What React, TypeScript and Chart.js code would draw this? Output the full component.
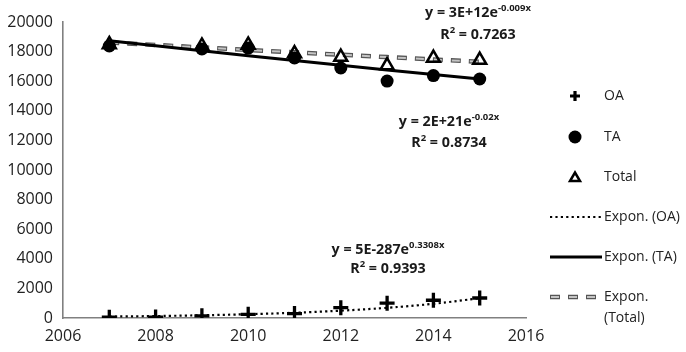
import React, { useEffect, useRef } from 'react';
import { Chart, registerables } from 'chart.js';

Chart.register(...registerables);

// ---- data ----
const years = [2007, 2008, 2009, 2010, 2011, 2012, 2013, 2014, 2015];
const oaValues = [50, 60, 150, 250, 300, 700, 1000, 1200, 1350];

const taYears = [2007, 2009, 2010, 2011, 2012, 2013, 2014, 2015];
const taValues = [18380, 18180, 18240, 17570, 16890, 16010, 16380, 16150];
const totalValues = [18480, 18380, 18450, 17870, 17630, 17060, 17560, 17430];

// exponential trend lines (values at each year)
const oaTrend = [95, 132, 184, 256, 356, 496, 690, 960, 1340];
const taTrend = [18740, 18400, 18060, 17720, 17400, 17080, 16760, 16460, 16150];
const totalTrend = [18620, 18450, 18280, 18110, 17950, 17790, 17630, 17470, 17310];

const xTicks = [2006, 2008, 2010, 2012, 2014, 2016];
const yTicks = [0, 2000, 4000, 6000, 8000, 10000, 12000, 14000, 16000, 18000, 20000];

const legendLabels = ['OA', 'TA', 'Total', 'Expon. (OA)', 'Expon. (TA)', 'Expon.', '(Total)'];
const equations = [
  { eq: 'y = 3E+12e', sup: '-0.009x', r2: '0.7263' },
  { eq: 'y = 2E+21e', sup: '-0.02x', r2: '0.8734' },
  { eq: 'y = 5E-287e', sup: '0.3308x', r2: '0.9393' },
];

const FONT = '"Open Sans", "Liberation Sans", sans-serif';

const pts = (xs: number[], ys: number[]) => xs.map((x, i) => ({ x, y: ys[i] }));

type Part = { t: string; sup?: boolean };

function drawParts(ctx: CanvasRenderingContext2D, cx: number, cy: number, parts: Part[]) {
  const base = `bold 14.3px ${FONT}`;
  const small = `bold 9.5px ${FONT}`;
  let w = 0;
  for (const p of parts) {
    ctx.font = p.sup ? small : base;
    w += ctx.measureText(p.t).width;
  }
  let x = cx - w / 2;
  ctx.textAlign = 'left';
  ctx.textBaseline = 'middle';
  for (const p of parts) {
    ctx.font = p.sup ? small : base;
    ctx.fillText(p.t, x, p.sup ? cy - 5 : cy);
    x += ctx.measureText(p.t).width;
  }
}

const overlayPlugin = {
  id: 'overlay',
  afterDraw(chart: any) {
    const ctx: CanvasRenderingContext2D = chart.ctx;
    ctx.save();
    ctx.fillStyle = '#1a1a1a';
    const eqPos = [
      [478, 13, 35],
      [449, 122, 143],
      [388, 250, 269],
    ];
    equations.forEach((e, i) => {
      const [cx, y1, y2] = eqPos[i];
      drawParts(ctx, cx, y1, [{ t: e.eq }, { t: e.sup, sup: true }]);
      drawParts(ctx, cx, y2, [{ t: 'R' }, { t: '2', sup: true }, { t: ' = ' + e.r2 }]);
    });

    // legend
    const mx = 575;
    const tx = 604;
    ctx.strokeStyle = '#000';
    ctx.fillStyle = '#000';
    // cross
    ctx.lineWidth = 3.2;
    ctx.beginPath();
    ctx.moveTo(mx - 5, 96);
    ctx.lineTo(mx + 5, 96);
    ctx.moveTo(mx, 91);
    ctx.lineTo(mx, 101);
    ctx.stroke();
    // circle
    ctx.beginPath();
    ctx.arc(mx, 137, 6.5, 0, Math.PI * 2);
    ctx.fill();
    // triangle
    ctx.lineWidth = 2.5;
    ctx.lineJoin = 'miter';
    ctx.beginPath();
    ctx.moveTo(mx - 5, 181);
    ctx.lineTo(mx + 5, 181);
    ctx.lineTo(mx, 172.5);
    ctx.closePath();
    ctx.stroke();
    // dotted
    ctx.lineWidth = 2.2;
    ctx.setLineDash([2.2, 3.2]);
    ctx.beginPath();
    ctx.moveTo(550, 217);
    ctx.lineTo(602, 217);
    ctx.stroke();
    // solid
    ctx.setLineDash([]);
    ctx.lineWidth = 3;
    ctx.beginPath();
    ctx.moveTo(550, 257);
    ctx.lineTo(602, 257);
    ctx.stroke();
    // outlined dashed
    ctx.lineWidth = 4.5;
    ctx.strokeStyle = '#555';
    ctx.setLineDash([10, 8]);
    ctx.beginPath();
    ctx.moveTo(550, 297);
    ctx.lineTo(602, 297);
    ctx.stroke();
    ctx.lineWidth = 2;
    ctx.strokeStyle = '#c4c4c4';
    ctx.setLineDash([8, 10]);
    ctx.lineDashOffset = -1;
    ctx.beginPath();
    ctx.moveTo(550, 297);
    ctx.lineTo(602, 297);
    ctx.stroke();
    ctx.setLineDash([]);

    ctx.fillStyle = '#222';
    ctx.font = `14px ${FONT}`;
    ctx.textAlign = 'left';
    ctx.textBaseline = 'middle';
    const ys = [96, 137, 177, 217, 257, 297, 318];
    legendLabels.forEach((l, i) => ctx.fillText(l, tx, ys[i]));
    ctx.restore();
  },
};

export default function App() {
  const ref = useRef<HTMLCanvasElement>(null);
  useEffect(() => {
    if (!ref.current) return;
    const chart = new Chart(ref.current, {
      type: 'scatter',
      data: {
        datasets: [
          {
            label: 'Total',
            data: pts(taYears, totalValues),
            pointStyle: 'triangle',
            pointRadius: 7.5,
            borderColor: '#000',
            backgroundColor: 'rgba(0,0,0,0)',
            borderWidth: 2.5,
            showLine: false,
            order: 1,
          },
          {
            label: 'TA',
            data: pts(taYears, taValues),
            pointStyle: 'circle',
            pointRadius: 6.5,
            borderColor: '#000',
            backgroundColor: '#000',
            borderWidth: 0,
            showLine: false,
            order: 2,
          },
          {
            label: 'OA',
            data: pts(years, oaValues),
            pointStyle: 'cross',
            pointRadius: 7.5,
            borderColor: '#000',
            backgroundColor: '#000',
            borderWidth: 3.3,
            showLine: false,
            order: 0,
          },
          {
            label: 'Expon. (OA)',
            data: pts(years, oaTrend),
            showLine: true,
            pointRadius: 0,
            borderColor: '#000',
            borderWidth: 2.2,
            borderDash: [2.2, 3.2],
            tension: 0.4,
            order: 5,
          },
          {
            label: 'Expon. (TA)',
            data: pts(years, taTrend),
            showLine: true,
            pointRadius: 0,
            borderColor: '#000',
            borderWidth: 3,
            order: 4,
          },
          {
            label: 'Expon. (Total)',
            data: pts(years, totalTrend),
            showLine: true,
            pointRadius: 0,
            borderColor: '#555',
            borderWidth: 4.5,
            borderDash: [10, 8],
            borderCapStyle: 'butt',
            order: 7,
          },
          {
            label: 'Expon. (Total) inner',
            data: pts(years, totalTrend),
            showLine: true,
            pointRadius: 0,
            borderColor: '#c4c4c4',
            borderWidth: 2,
            borderDash: [8, 10],
            borderDashOffset: -1,
            borderCapStyle: 'butt',
            order: 6,
          },
        ],
      },
      options: {
        animation: false,
        responsive: false,
        layout: { padding: { top: 22, right: 160, left: 0, bottom: 0 } },
        plugins: { legend: { display: false }, tooltip: { enabled: false } },
        scales: {
          x: {
            type: 'linear',
            min: 2006,
            max: 2016,
            afterBuildTicks: (s: any) => {
              s.ticks = xTicks.map((v) => ({ value: v }));
            },
            afterFit: (s: any) => {
              s.height = 34;
            },
            grid: { display: false, drawTicks: false },
            border: { display: true, color: '#808080', width: 1.6 },
            ticks: {
              padding: 9,
              color: '#222',
              font: { family: FONT, size: 16 },
              callback: (v: any) => String(v),
            },
          },
          y: {
            type: 'linear',
            min: 0,
            max: 20000,
            afterBuildTicks: (s: any) => {
              s.ticks = yTicks.map((v) => ({ value: v }));
            },
            afterFit: (s: any) => {
              s.width = 63;
            },
            grid: { display: false, drawTicks: false },
            border: { display: true, color: '#808080', width: 1.6 },
            ticks: {
              padding: 10,
              color: '#222',
              font: { family: FONT, size: 16 },
              callback: (v: any) => String(v),
            },
          },
        },
      },
      plugins: [overlayPlugin],
    });
    return () => chart.destroy();
  }, []);
  return (
    <div style={{ position: 'fixed', left: 0, top: 0, width: 686, height: 352, background: '#fff' }}>
      <canvas ref={ref} width={686} height={352} style={{ width: 686, height: 352 }} />
    </div>
  );
}
